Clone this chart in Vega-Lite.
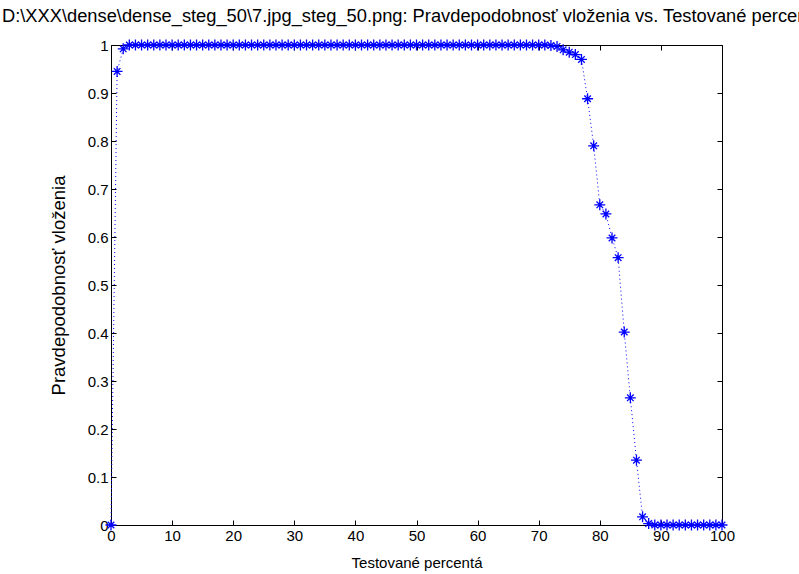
{
  "$schema": "https://vega.github.io/schema/vega-lite/v6.json",
  "width": 611,
  "height": 480,
  "autosize": "none",
  "padding": {"left": 111, "top": 45, "right": 77, "bottom": 49},
  "background": "white",
  "title": {
    "text": "D:\\XXX\\dense\\dense_steg_50\\7.jpg_steg_50.png: Pravdepodobnosť vloženia vs. Testované percentá",
    "anchor": "start",
    "frame": "group",
    "dx": -109,
    "offset": 11,
    "font": "Liberation Sans",
    "fontSize": 18.3,
    "fontWeight": "normal",
    "color": "black"
  },
  "config": {
    "view": {"stroke": "black", "strokeWidth": 1},
    "axis": {
      "labelFont": "Liberation Sans",
      "labelFontSize": 15,
      "labelColor": "black",
      "titleFont": "Liberation Sans",
      "titleFontSize": 15,
      "titleFontWeight": "normal",
      "titleColor": "black",
      "domainColor": "black",
      "tickColor": "black",
      "grid": false,
      "tickSize": -5,
      "domain": true
    }
  },
  "data": {
    "values": [
      {"x": 0, "y": 0}, {"x": 1, "y": 0.945}, {"x": 2, "y": 0.992},
      {"x": 3, "y": 1}, {"x": 4, "y": 1}, {"x": 5, "y": 1}, {"x": 6, "y": 1}, {"x": 7, "y": 1},
      {"x": 8, "y": 1}, {"x": 9, "y": 1}, {"x": 10, "y": 1}, {"x": 11, "y": 1}, {"x": 12, "y": 1},
      {"x": 13, "y": 1}, {"x": 14, "y": 1}, {"x": 15, "y": 1}, {"x": 16, "y": 1}, {"x": 17, "y": 1},
      {"x": 18, "y": 1}, {"x": 19, "y": 1}, {"x": 20, "y": 1}, {"x": 21, "y": 1}, {"x": 22, "y": 1},
      {"x": 23, "y": 1}, {"x": 24, "y": 1}, {"x": 25, "y": 1}, {"x": 26, "y": 1}, {"x": 27, "y": 1},
      {"x": 28, "y": 1}, {"x": 29, "y": 1}, {"x": 30, "y": 1}, {"x": 31, "y": 1}, {"x": 32, "y": 1},
      {"x": 33, "y": 1}, {"x": 34, "y": 1}, {"x": 35, "y": 1}, {"x": 36, "y": 1}, {"x": 37, "y": 1},
      {"x": 38, "y": 1}, {"x": 39, "y": 1}, {"x": 40, "y": 1}, {"x": 41, "y": 1}, {"x": 42, "y": 1},
      {"x": 43, "y": 1}, {"x": 44, "y": 1}, {"x": 45, "y": 1}, {"x": 46, "y": 1}, {"x": 47, "y": 1},
      {"x": 48, "y": 1}, {"x": 49, "y": 1}, {"x": 50, "y": 1}, {"x": 51, "y": 1}, {"x": 52, "y": 1},
      {"x": 53, "y": 1}, {"x": 54, "y": 1}, {"x": 55, "y": 1}, {"x": 56, "y": 1}, {"x": 57, "y": 1},
      {"x": 58, "y": 1}, {"x": 59, "y": 1}, {"x": 60, "y": 1}, {"x": 61, "y": 1}, {"x": 62, "y": 1},
      {"x": 63, "y": 1}, {"x": 64, "y": 1}, {"x": 65, "y": 1}, {"x": 66, "y": 1}, {"x": 67, "y": 1},
      {"x": 68, "y": 1}, {"x": 69, "y": 1}, {"x": 70, "y": 1}, {"x": 71, "y": 1}, {"x": 72, "y": 0.999},
      {"x": 73, "y": 0.997}, {"x": 74, "y": 0.99}, {"x": 75, "y": 0.985}, {"x": 76, "y": 0.98},
      {"x": 77, "y": 0.97}, {"x": 78, "y": 0.888}, {"x": 79, "y": 0.79}, {"x": 80, "y": 0.667},
      {"x": 81, "y": 0.648}, {"x": 82, "y": 0.598}, {"x": 83, "y": 0.557}, {"x": 84, "y": 0.402},
      {"x": 85, "y": 0.265}, {"x": 86, "y": 0.135}, {"x": 87, "y": 0.017}, {"x": 88, "y": 0.003},
      {"x": 89, "y": 0}, {"x": 90, "y": 0}, {"x": 91, "y": 0}, {"x": 92, "y": 0}, {"x": 93, "y": 0},
      {"x": 94, "y": 0}, {"x": 95, "y": 0}, {"x": 96, "y": 0}, {"x": 97, "y": 0}, {"x": 98, "y": 0},
      {"x": 99, "y": 0}, {"x": 100, "y": 0}
    ]
  },
  "layer": [
    {
      "mark": {"type": "line", "color": "#0000ff", "strokeDash": [1, 3], "strokeWidth": 1, "clip": false},
      "encoding": {
        "x": {"field": "x", "type": "quantitative", "scale": {"domain": [0, 100], "nice": false},
              "axis": {"orient": "top", "labels": false, "title": null, "values": [0,10,20,30,40,50,60,70,80,90,100], "domain": false}},
        "y": {"field": "y", "type": "quantitative", "scale": {"domain": [0, 1], "nice": false},
              "axis": {"orient": "right", "labels": false, "title": null, "values": [0,0.1,0.2,0.3,0.4,0.5,0.6,0.7,0.8,0.9,1], "domain": false}}
      }
    },
    {
      "mark": {"type": "point", "shape": "M-1,0L1,0M0,-1L0,1M-0.6,-0.6L0.6,0.6M-0.6,0.6L0.6,-0.6", "filled": false, "stroke": "#0000ff", "strokeWidth": 1.3, "size": 120, "opacity": 1, "clip": false},
      "encoding": {
        "x": {"field": "x", "type": "quantitative", "scale": {"domain": [0, 100], "nice": false},
              "axis": {"orient": "bottom", "title": "Testované percentá", "format": "d", "values": [0,10,20,30,40,50,60,70,80,90,100], "labelPadding": 8, "titlePadding": 12, "labelFlush": false}},
        "y": {"field": "y", "type": "quantitative", "scale": {"domain": [0, 1], "nice": false},
              "axis": {"orient": "left", "title": "Pravdepodobnosť vloženia", "titleFontSize": 18.5, "format": ".1~f", "values": [0,0.1,0.2,0.3,0.4,0.5,0.6,0.7,0.8,0.9,1], "labelPadding": 8, "titlePadding": 19, "labelFlush": false}}
      }
    }
  ],
  "resolve": {"axis": {"x": "independent", "y": "independent"}}
}
